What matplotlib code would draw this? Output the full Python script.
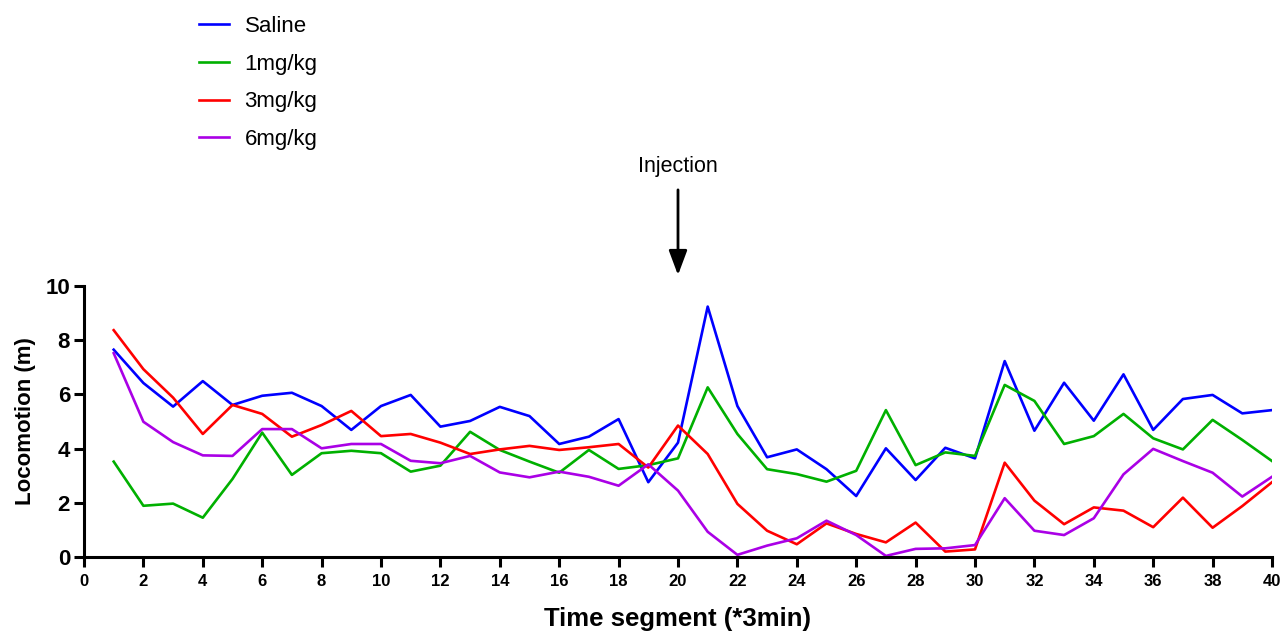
import numpy as np
import matplotlib.pyplot as plt

plt.rcParams['font.family'] = ['Liberation Sans', 'DejaVu Sans']

# time segments (*3min)
segments = list(range(1, 41))

saline = [7.65, 6.42, 5.55, 6.49, 5.61, 5.95, 6.06, 5.57, 4.69, 5.57,
          5.98, 4.81, 5.02, 5.54, 5.20, 4.17, 4.44, 5.09, 2.76, 4.22,
          9.24, 5.57, 3.68, 3.97, 3.24, 2.25, 4.01, 2.84, 4.03, 3.64,
          7.23, 4.66, 6.43, 5.03, 6.74, 4.69, 5.83, 5.98, 5.30, 5.42]
dose_1 = [3.52, 1.89, 1.97, 1.45, 2.88, 4.59, 3.03, 3.83, 3.92, 3.83,
          3.15, 3.37, 4.62, 3.95, 3.52, 3.11, 3.95, 3.25, 3.39, 3.64,
          6.26, 4.54, 3.24, 3.06, 2.78, 3.18, 5.42, 3.39, 3.86, 3.73,
          6.35, 5.76, 4.17, 4.46, 5.28, 4.38, 3.97, 5.06, 4.32, 3.54]
dose_3 = [8.37, 6.93, 5.88, 4.54, 5.61, 5.28, 4.44, 4.87, 5.39, 4.46,
          4.54, 4.22, 3.80, 3.97, 4.10, 3.95, 4.05, 4.17, 3.30, 4.85,
          3.80, 1.96, 0.97, 0.47, 1.24, 0.85, 0.54, 1.27, 0.20, 0.28,
          3.48, 2.08, 1.21, 1.83, 1.71, 1.10, 2.19, 1.08, 1.88, 2.76]
dose_6 = [7.52, 4.99, 4.24, 3.75, 3.73, 4.72, 4.72, 4.01, 4.17, 4.17,
          3.55, 3.46, 3.73, 3.12, 2.94, 3.15, 2.96, 2.63, 3.42, 2.45,
          0.93, 0.08, 0.42, 0.69, 1.34, 0.81, 0.04, 0.30, 0.32, 0.44,
          2.17, 0.97, 0.81, 1.43, 3.05, 3.99, 3.54, 3.11, 2.23, 2.96]

labels = ['Saline', '1mg/kg', '3mg/kg', '6mg/kg']
colors = ['#0000FF', '#00B000', '#FF0000', '#AA00E6']

fig = plt.figure(figsize=(12.88, 6.33), dpi=100)
ax = fig.add_axes([84/1288, 1 - 557/633, (1272 - 84)/1288, (557 - 286)/633])

for series, lab, col in zip([saline, dose_1, dose_3, dose_6], labels, colors):
    ax.plot(segments, series, color=col, lw=1.9, label=lab)

ax.set_xlim(0, 40)
ax.set_ylim(0, 10)
ax.set_xticks(range(0, 41, 2))
ax.set_yticks(range(0, 11, 2))
for s in ['top', 'right']:
    ax.spines[s].set_visible(False)
for s in ['left', 'bottom']:
    ax.spines[s].set_linewidth(2.2)
ax.tick_params(axis='both', direction='out', length=7, width=2.2)
ax.tick_params(axis='x', labelsize=12, pad=5)
ax.tick_params(axis='y', labelsize=16, pad=3)
for t in ax.get_xticklabels() + ax.get_yticklabels():
    t.set_fontweight('bold')

ax.set_xlabel('Time segment (*3min)', fontsize=18.5, fontweight='bold', labelpad=13)
ax.set_ylabel('Locomotion (m)', fontsize=16, fontweight='bold', labelpad=7)

# injection marker
ax.annotate('', xy=(20, 10.3), xytext=(20, 13.65), annotation_clip=False,
            arrowprops=dict(arrowstyle='-|>,head_length=0.75,head_width=0.28',
                            mutation_scale=20, lw=2, color='black'))
ax.text(20, 14.42, 'Injection', ha='center', va='center', fontsize=15.5, clip_on=False)

fig.legend(loc='upper left', bbox_to_anchor=(199/1288, 1 - 16/633), frameon=False,
           fontsize=16, handlelength=1.35, handletextpad=0.7, labelspacing=0.75,
           borderpad=0, borderaxespad=0)

fig.savefig('out.png', dpi=100)
